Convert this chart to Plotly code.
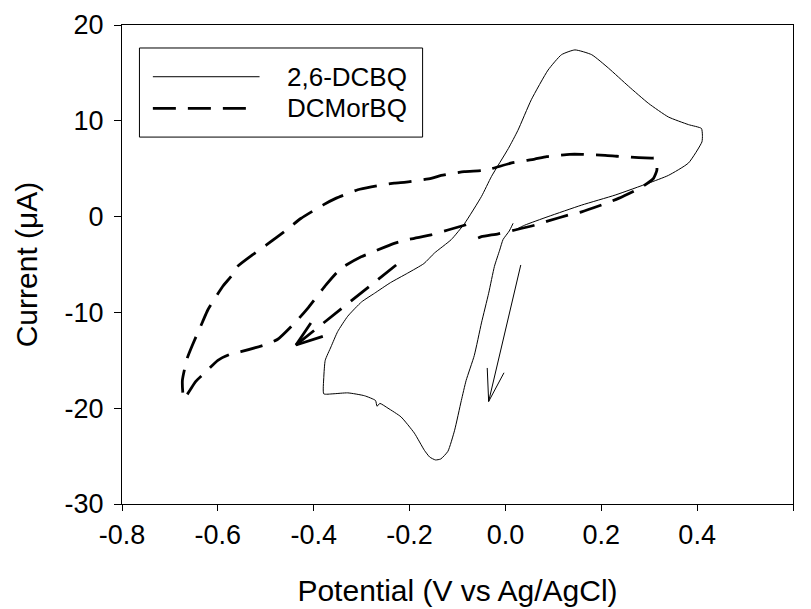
import plotly.graph_objects as go

# ---------------- data ----------------
dcbq_v = [0.016, 0.008, -0.005, -0.012, -0.023, -0.035, -0.05, -0.065, -0.082, -0.092,
          -0.106, -0.12, -0.135, -0.146, -0.158, -0.169, -0.19, -0.218, -0.245, -0.262,
          -0.268, -0.271, -0.294, -0.329, -0.36, -0.379, -0.379, -0.376, -0.364, -0.35,
          -0.329, -0.3, -0.273, -0.24, -0.204, -0.17, -0.148, -0.113, -0.085, -0.05,
          -0.029, 0.006, 0.026, 0.054, 0.089, 0.117, 0.145, 0.18, 0.215, 0.257,
          0.299, 0.34, 0.382, 0.409, 0.411, 0.41, 0.382, 0.34, 0.299, 0.229,
          0.159, 0.089, 0.04, 0.02]
dcbq_i = [-0.7, -1.5, -2.4, -3.5, -5.2, -8.0, -11.1, -14.5, -17.1, -19.2,
          -22.3, -24.5, -25.3, -25.4, -25.1, -24.4, -22.6, -20.9, -20.0, -19.5,
          -19.8, -19.2, -18.7, -18.4, -18.5, -18.5, -16.8, -15.0, -13.6, -12.0,
          -10.4, -8.9, -8.0, -6.9, -5.9, -4.9, -3.8, -2.4, -0.7, 2.1,
          4.2, 7.1, 9.0, 12.2, 15.3, 16.9, 17.4, 16.9, 15.5, 13.6,
          11.8, 10.4, 9.6, 9.2, 8.5, 7.8, 5.6, 4.3, 3.5, 2.25,
          1.2, 0.0, -0.9, -1.4]

dcmorbq_v = [-0.082, -0.12, -0.155, -0.204, -0.232, -0.277, -0.301, -0.343, -0.374, -0.413,
             -0.434, -0.475, -0.503, -0.552, -0.576, -0.6, -0.625, -0.646, -0.671,
             -0.674, -0.664, -0.653, -0.632, -0.621, -0.59, -0.57, -0.559, -0.528, -0.5,
             -0.462, -0.427, -0.381, -0.354, -0.308, -0.28, -0.232, -0.207, -0.155, -0.134,
             -0.086, -0.05, -0.029, 0.013, 0.061, 0.086, 0.134, 0.159, 0.208, 0.232,
             0.278, 0.305, 0.314, 0.316, 0.309, 0.285, 0.236, 0.211, 0.159, 0.134,
             0.086, 0.061, 0.02, -0.015, -0.05, -0.06]
dcmorbq_i = [-0.85, -1.4, -1.9, -2.4, -2.8, -3.7, -4.2, -5.4, -7.1, -9.6,
             -10.8, -12.8, -13.4, -14.1, -14.4, -15.0, -16.2, -17.2, -19.0,
             -17.1, -14.8, -13.4, -11.0, -9.75, -7.3, -6.1, -5.2, -4.0, -3.0,
             -1.6, -0.2, 1.2, 1.9, 2.8, 3.1, 3.5, 3.6, 4.0, 4.3,
             4.7, 4.8, 5.0, 5.6, 6.0, 6.25, 6.5, 6.5, 6.4, 6.3,
             6.15, 6.1, 6.1, 4.85, 4.0, 3.1, 1.9, 1.4, 0.5, 0.2,
             -0.5, -0.9, -1.4, -1.8, -2.1, -2.3]

# scan-direction arrows
arrow_thin_shaft_v = [0.032, -0.035]
arrow_thin_shaft_i = [-5.05, -19.3]
arrow_thin_head_v = [-0.038, -0.035, -0.003]
arrow_thin_head_i = [-15.8, -19.3, -16.3]

arrow_dash_shaft_v = [-0.228, -0.437]
arrow_dash_shaft_i = [-5.05, -13.4]
arrow_dash_head_v = [-0.406, -0.437, -0.381]
arrow_dash_head_i = [-11.1, -13.4, -12.5]

series_names = ["2,6-DCBQ", "DCMorBQ"]
x_ticks = [-0.8, -0.6, -0.4, -0.2, 0.0, 0.2, 0.4, 0.6]
x_tick_labels = ["-0.8", "-0.6", "-0.4", "-0.2", "0.0", "0.2", "0.4", "0.6"]
y_ticks = [-30, -20, -10, 0, 10, 20]
y_tick_labels = ["-30", "-20", "-10", "0", "10", "20"]

FONT = "Liberation Sans, Arial, sans-serif"
DASH = "23px,12px"

fig = go.Figure()
fig.add_trace(go.Scatter(x=dcbq_v, y=dcbq_i, mode="lines", name=series_names[0],
                         line=dict(color="black", width=1, shape="spline", smoothing=0.5),
                         showlegend=False))
fig.add_trace(go.Scatter(x=dcmorbq_v, y=dcmorbq_i, mode="lines", name=series_names[1],
                         line=dict(color="black", width=2.8, dash=DASH, shape="spline", smoothing=0.5),
                         showlegend=False))
fig.add_trace(go.Scatter(x=arrow_thin_shaft_v, y=arrow_thin_shaft_i, mode="lines",
                         line=dict(color="black", width=1), showlegend=False, hoverinfo="skip"))
fig.add_trace(go.Scatter(x=arrow_thin_head_v, y=arrow_thin_head_i, mode="lines",
                         line=dict(color="black", width=1), showlegend=False, hoverinfo="skip"))
fig.add_trace(go.Scatter(x=arrow_dash_shaft_v, y=arrow_dash_shaft_i, mode="lines",
                         line=dict(color="black", width=2.8, dash=DASH), showlegend=False, hoverinfo="skip"))
fig.add_trace(go.Scatter(x=arrow_dash_head_v, y=arrow_dash_head_i, mode="lines",
                         line=dict(color="black", width=2.8), showlegend=False, hoverinfo="skip"))

# manual legend box (paper coordinates)
fig.add_shape(type="rect", xref="paper", yref="paper", x0=0.026, x1=0.448, y0=0.766, y1=0.952,
              line=dict(color="black", width=1), fillcolor="white", layer="above")
fig.add_shape(type="line", xref="paper", yref="paper", x0=0.046, x1=0.205, y0=0.892, y1=0.892,
              line=dict(color="black", width=1), layer="above")
fig.add_shape(type="line", xref="paper", yref="paper", x0=0.046, x1=0.195, y0=0.826, y1=0.826,
              line=dict(color="black", width=2.8, dash=DASH), layer="above")
fig.add_annotation(xref="paper", yref="paper", x=0.428, y=0.892, text=series_names[0],
                   showarrow=False, xanchor="right", yanchor="middle",
                   font=dict(family=FONT, size=26, color="black"))
fig.add_annotation(xref="paper", yref="paper", x=0.428, y=0.826, text=series_names[1],
                   showarrow=False, xanchor="right", yanchor="middle",
                   font=dict(family=FONT, size=26, color="black"))

fig.update_layout(
    width=811, height=609,
    margin=dict(l=122, r=18, t=25, b=105, autoexpand=False),
    paper_bgcolor="white", plot_bgcolor="white",
    font=dict(family=FONT, size=27, color="black"),
    showlegend=False,
    xaxis=dict(range=[-0.8, 0.6], tickvals=x_ticks, ticktext=x_tick_labels, automargin=False,
               showgrid=False, zeroline=False, showline=True, linecolor="black", linewidth=1,
               mirror=True, ticks="outside", ticklen=6, tickcolor="black", tickwidth=1,
               tickfont=dict(size=27), ticklabelstandoff=1,
               title=dict(text="Potential (V vs Ag/AgCl)", font=dict(size=30), standoff=30)),
    yaxis=dict(range=[-30, 20], tickvals=y_ticks, ticktext=y_tick_labels, automargin=False,
               showgrid=False, zeroline=False, showline=True, linecolor="black", linewidth=1,
               mirror=True, ticks="outside", ticklen=7, tickcolor="black", tickwidth=1,
               tickfont=dict(size=27), ticklabelstandoff=5,
               title=dict(text="Current (μA)", font=dict(size=30), standoff=18)),
)

fig.write_html("out.html", config={"displayModeBar": False},
               post_script="document.body.style.margin='0px';document.body.style.overflow='hidden';")
